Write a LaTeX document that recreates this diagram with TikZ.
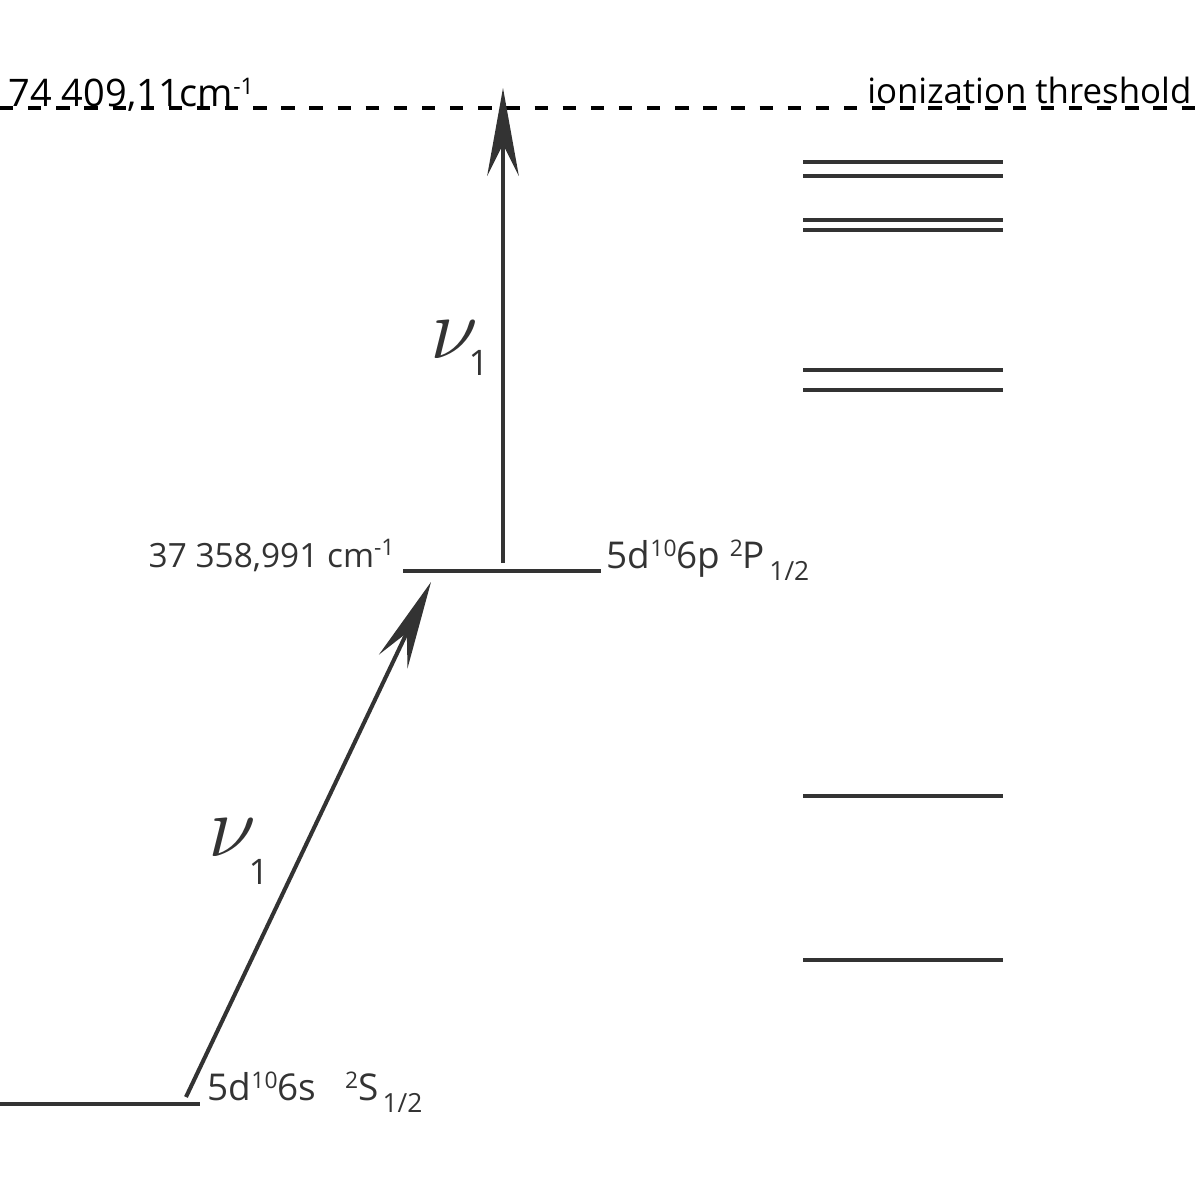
\documentclass[tikz,border=0pt]{standalone}
\usepackage{fontspec}
\setmainfont{Open Sans}
\usepackage{tikz}
\usetikzlibrary{arrows.meta}
\definecolor{lvl}{HTML}{333333}
\tikzstyle{level} = [draw=lvl, line width=1.4pt]
\tikzstyle{threshold} = [draw=black, line width=1.1pt, dash pattern=on 3.8pt off 4.2pt]
\tikzstyle{label} = [inner sep=0pt, anchor=base west, text=lvl]
\tikzstyle{arrow} = [draw=lvl, line width=1.15pt, -{Stealth[length=25pt, width=9pt, inset=9pt]}]
\newcommand{\lsub}[1]{\kern1.2pt\raisebox{-3.6pt}{\fontsize{7.5}{8}\selectfont #1}}
\newcommand{\lsup}[1]{\raisebox{3.3pt}{\fontsize{6.5}{7}\selectfont #1}}

\begin{document}
\begin{tikzpicture}[x=0.01cm, y=-0.01cm]
	\useasboundingbox (0, 0) rectangle (1200, 1200);

	% ionization threshold
	\draw[threshold] (0, 108) -- (1200, 108);
	\node[label, text=black, font=\fontsize{10.8}{13}\selectfont](ionval) at (8, 106){74 409,11cm\lsup{-1}};
	\node[label, text=black, anchor=base east, font=\fontsize{9.9}{12}\selectfont](ionlbl) at (1192, 103){ionization threshold};

	% levels
	\draw[level] (0, 1104) -- (200, 1104);
	\draw[level] (403, 571) -- (601, 571);
	\foreach \y in {162, 176, 220, 230, 370, 390, 796, 960}
		\draw[level] (803, \y) -- (1003, \y);

	\node[label, font=\fontsize{9.5}{12}\selectfont](midval) at (148, 567){37 358,991 cm\lsup{-1}};
	\node[label, font=\fontsize{10.5}{13}\selectfont](midlbl) at (606, 568){5d\lsup{10}6p \lsup{2}P\lsub{1/2}};
	\node[label, font=\fontsize{10.5}{13}\selectfont](gndlbl) at (207, 1100){5d\lsup{10}6s\ \ \ \lsup{2}S\lsub{1/2}};

	% transitions
	\coordinate (gnd) at (186, 1097);
	\coordinate (mid) at (431, 582);
	\coordinate (midup) at (503, 563);
	\coordinate (ion) at (503, 88);
	\draw[arrow](gnd) -- (mid);
	\draw[arrow](midup) -- (ion);

	\node[label, font=\fontsize{25}{25}\selectfont](nuup) at (430, 358){$\nu$};
	\node[label, font=\fontsize{10}{12}\selectfont](nuupsub) at (468, 375){1};
	\node[label, font=\fontsize{10}{12}\selectfont](nulowsub) at (248, 884){1};
	\node[label, font=\fontsize{25}{25}\selectfont](nulow) at (208, 856){$\nu$};
\end{tikzpicture}
\end{document}
